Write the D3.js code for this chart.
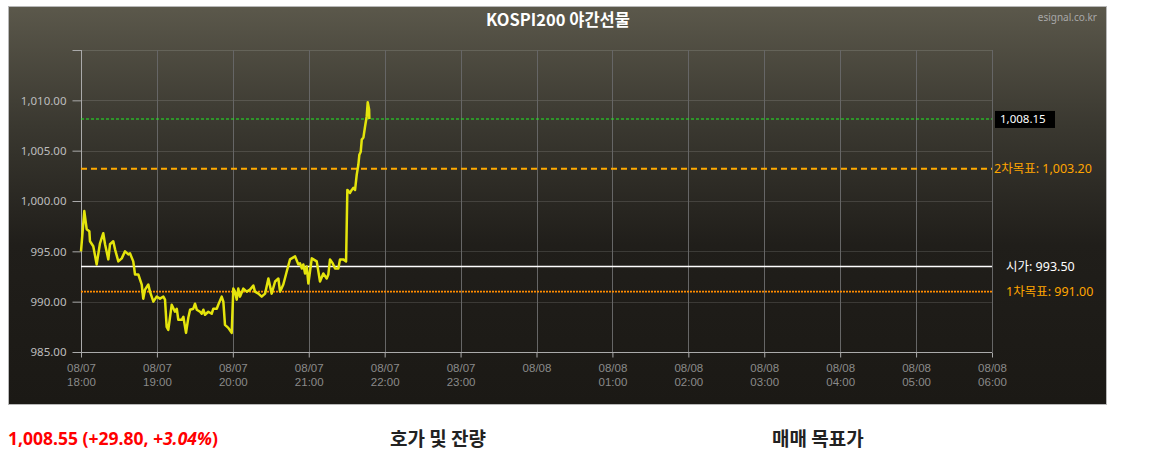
<!DOCTYPE html>
<html><head><meta charset="utf-8">
<script src="https://cdn.jsdelivr.net/npm/d3@7"></script>
<style>
body{margin:0;background:#fff;}
svg{display:block;font-family:"Noto Sans","Noto Sans CJK KR",sans-serif;}
</style>
</head><body><svg id="c" width="1150" height="453"></svg>
<script>
// minutes after 08/07 18:00
const minutes = [0,2.6,4.5,6.6,7.1,9.7,12.4,15.0,17.6,19.0,21.6,22.9,25.5,26.9,29.5,32.2,34.8,37.4,38.7,41.3,42.7,45.3,48.0,49.2,50.6,53.2,54.5,57.2,59.8,62.4,65.1,66.4,67.7,69.0,71.7,74.3,75.7,76.9,79.6,80.9,83.0,84.8,86.2,88.8,90.1,91.5,94.1,95.4,96.7,98.0,100.6,103.3,104.6,107.3,108.5,111.2,112.5,113.8,116.4,119.1,120.4,121.7,123.1,124.3,125.7,128.3,131.0,133.6,136.2,137.5,140.2,142.8,145.5,148.1,150.7,153.4,156.0,157.3,159.9,162.6,165.2,169.2,171.8,173.1,174.5,175.7,177.1,178.4,179.7,182.4,186.3,188.9,191.5,194.2,195.5,196.8,199.0,200.8,203.4,204.7,207.3,209.5,210.5,212.6,214.0,215.3,216.6,217.9,219.2,220.0,221.1,221.9,223.2,224.5,225.8,226.6,227.7,227.9];
const prices = [995.0,999.0,997.2,997.0,996.0,995.5,993.7,995.8,996.8,995.7,994.2,995.7,996.0,995.2,994.0,994.3,995.0,994.7,994.8,994.0,992.7,992.7,991.7,990.3,991.2,991.7,991.0,990.0,990.5,990.3,990.5,990.2,987.5,987.2,989.7,989.0,989.3,988.2,988.2,988.5,986.9,988.4,989.2,989.3,989.8,989.2,989.0,988.8,989.2,988.7,989.0,988.8,989.3,989.3,989.7,990.5,990.0,987.7,987.4,986.9,991.3,991.0,990.2,991.3,990.5,991.3,991.0,991.2,991.6,991.0,990.8,990.5,990.8,992.3,990.8,992.0,992.3,991.0,991.7,993.0,994.2,994.5,993.7,993.8,993.3,993.7,992.8,993.5,991.8,994.3,994.0,992.0,992.8,992.3,992.7,994.2,993.8,993.3,993.3,994.2,994.2,994.0,1001.1,1000.8,1001.1,1001.3,1001.1,1002.6,1003.6,1004.6,1004.9,1006.1,1006.3,1007.4,1008.4,1009.8,1009.1,1008.15];
const yTicks = [985,990,995,1000,1005,1010,1015];
const xTickHours = [18,19,20,21,22,23,24,25,26,27,28,29,30];
const levelNames = ["", "2차목표", "시가", "1차목표"];
const levelValues = [1008.15, 1003.20, 993.50, 991.00];
const titleText = "KOSPI200 야간선물";
const sourceText = "esignal.co.kr";
const headings = ["호가 및 잔량", "매매 목표가"];

const base = new Date(2024,7,7,18,0);
const toDate = m => new Date(base.getTime() + m*60000);

const svg = d3.select("#c");
const defs = svg.append("defs");
const g = defs.append("linearGradient").attr("id","bg").attr("x1",0).attr("y1",0).attr("x2",0).attr("y2",1);
g.append("stop").attr("offset","0%").attr("stop-color","#5b584b");
g.append("stop").attr("offset","30%").attr("stop-color","#3a3830");
g.append("stop").attr("offset","60%").attr("stop-color","#201e1a");
g.append("stop").attr("offset","100%").attr("stop-color","#1b1915");

svg.append("rect").attr("x",8.5).attr("y",6.5).attr("width",1098).attr("height",398)
  .attr("fill","url(#bg)").attr("stroke","#b8b8b8").attr("stroke-width",1);

const x = d3.scaleTime().domain([toDate(0), toDate(720)]).range([81,992]);
const y = d3.scaleLinear().domain([985,1015]).range([352,50]);
const py = v => Math.round(y(v)) + 0.5;

// horizontal grid
svg.append("g").selectAll("line").data(yTicks).join("line")
  .attr("x1",81).attr("x2",992).attr("y1",d=>py(d)).attr("y2",d=>py(d))
  .attr("stroke","rgba(255,255,255,0.13)");
// vertical grid
svg.append("g").selectAll("line").data(xTickHours).join("line")
  .attr("x1",d=>Math.round(x(toDate((d-18)*60)))+0.5).attr("x2",d=>Math.round(x(toDate((d-18)*60)))+0.5)
  .attr("y1",50).attr("y2",352).attr("stroke","#666");

// y axis
const ya = svg.append("g").attr("transform","translate(81.5,0)")
  .call(d3.axisLeft(y).tickValues(yTicks).tickSize(9).tickPadding(6)
    .tickFormat(v => v===1015 ? "" : d3.format(",.2f")(v)));
ya.select(".domain").attr("stroke","#aaa").attr("d","M0,50V352");
ya.selectAll(".tick line").attr("stroke","#aaa");
ya.selectAll(".tick text").attr("fill","#bdbdbd").attr("font-size",11.5).attr("font-family","Noto Sans");

// x axis
const xa = svg.append("g").attr("transform","translate(0,352.5)")
  .call(d3.axisBottom(x).tickValues(xTickHours.map(h=>toDate((h-18)*60))).tickSize(5).tickFormat(""));
xa.select(".domain").attr("stroke","#aaa").attr("d","M81,0H992");
xa.selectAll(".tick line").attr("stroke","#aaa");
xa.selectAll(".tick").each(function(d){
  const t = d3.select(this).append("text").attr("fill","#8a8a8a").attr("font-size",11.5).attr("text-anchor","middle");
  t.append("tspan").attr("x",0).attr("y",19).text(d3.timeFormat("%m/%d")(d));
  if (d.getHours() !== 0)
    t.append("tspan").attr("x",0).attr("y",33).text(d3.timeFormat("%H:%M")(d));
});

// level lines
const levelStyles = [
  {stroke:"#22ee22", w:1.1, dash:"3,2"},
  {stroke:"#ffaa00", w:2, dash:"6,4"},
  {stroke:"#ffffff", w:1.5, dash:null},
  {stroke:"#ff8c00", w:1.6, dash:"2,1"}
];
levelValues.forEach((v,i)=>{
  const s = levelStyles[i];
  const yy = y(v);
  const ln = svg.append("line").attr("x1",81).attr("x2",992)
    .attr("y1",yy).attr("y2",yy).attr("stroke",s.stroke).attr("stroke-width",s.w);
  if (s.dash) ln.attr("stroke-dasharray",s.dash);
});

// price line
const line = d3.line().x((d,i)=>x(toDate(minutes[i]))).y(d=>y(d));
svg.append("path").datum(prices).attr("d",line).attr("fill","none")
  .attr("stroke","#e4e40c").attr("stroke-width",2.5).attr("stroke-linejoin","round");

// level labels
const fmt = d3.format(",.2f");
svg.append("rect").attr("x",995).attr("y",y(levelValues[0])-8).attr("width",60).attr("height",17).attr("fill","#000");
svg.append("text").attr("x",1000).attr("y",y(levelValues[0])+4.5).attr("fill","#fff").attr("font-size",11.5).text(fmt(levelValues[0]));
svg.append("text").attr("x",994).attr("y",y(levelValues[1])+4.5).attr("fill","#ffa500").attr("font-size",12.5).text(levelNames[1]+": "+fmt(levelValues[1]));
svg.append("text").attr("x",1006).attr("y",y(levelValues[2])+4.5).attr("fill","#fff").attr("font-size",12.5).text(levelNames[2]+": "+fmt(levelValues[2]));
svg.append("text").attr("x",1006).attr("y",y(levelValues[3])+4.5).attr("fill","#ffa500").attr("font-size",12.5).text(levelNames[3]+": "+fmt(levelValues[3]));

// title & source
svg.append("text").attr("x",558).attr("y",26).attr("text-anchor","middle").attr("fill","#fff")
  .attr("font-size",16.5).attr("font-weight","bold").attr("font-family","Noto Sans CJK KR").text(titleText);
svg.append("text").attr("x",1097).attr("y",21).attr("text-anchor","end").attr("fill","#a8a8a8")
  .attr("font-size",10).text(sourceText);

// bottom texts
const q = svg.append("text").attr("x",8).attr("y",445).attr("fill","#ff0000").attr("font-size",17.5).attr("font-weight","bold");
q.append("tspan").text("1,008.55 (+29.80, ");
q.append("tspan").attr("font-style","italic").text("+3.04%");
q.append("tspan").text(")");
svg.append("text").attr("x",390).attr("y",446).attr("fill","#222").attr("font-size",19).attr("font-weight","bold")
  .attr("font-family","Noto Sans CJK KR").text(headings[0]);
svg.append("text").attr("x",772).attr("y",446).attr("fill","#222").attr("font-size",19).attr("font-weight","bold")
  .attr("font-family","Noto Sans CJK KR").text(headings[1]);
</script>
</body></html>
